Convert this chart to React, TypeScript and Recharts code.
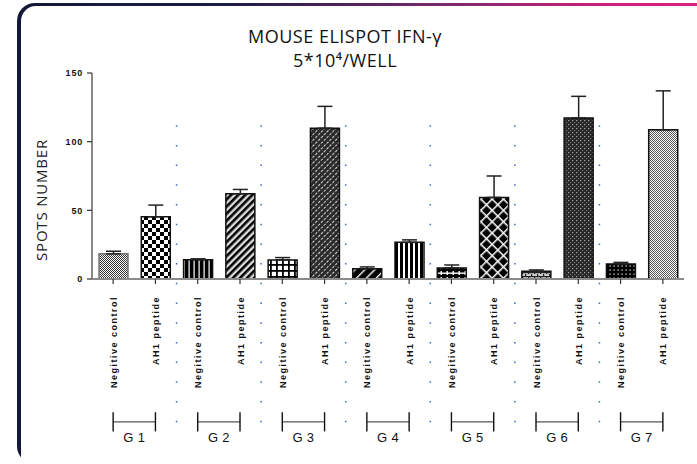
import React from "react";
import { BarChart, Bar, XAxis, YAxis, Cell, ErrorBar, ReferenceLine } from "recharts";

// groups and the two conditions inside each group
const groups = ["G 1", "G 2", "G 3", "G 4", "G 5", "G 6", "G 7"];
const conditions = ["Negitive control", "AH1 peptide"];

// mean spots, in bar order (G1 NC, G1 AH1, G2 NC, ...)
const means = [18.3, 45.3, 14.1, 62.1, 13.9, 109.8, 7.5, 26.7, 8.0, 59.4, 5.6, 117.3, 11.0, 108.6];
// upper error (SEM), same order
const errors = [1.9, 8.5, 0.6, 3.1, 1.7, 15.9, 1.3, 1.8, 2.2, 15.6, 1.0, 15.7, 1.1, 28.4];

const yTicks = [0, 50, 100, 150];

const keyOf = (g: string, c: number) => `${g}|${c}`;

const data = groups.flatMap((g, gi) =>
  conditions.map((c, ci) => ({
    key: keyOf(g, ci),
    mean: means[gi * 2 + ci],
    err: [0, errors[gi * 2 + ci]],
  }))
);

const FONT = "'Liberation Sans', Arial, sans-serif";
const TITLE_FONT = "'Open Sans', sans-serif";

function BarTick({ x, y, index }: any) {
  return (
    <text
      transform={`translate(${x + 3.5},${y + 12}) rotate(-90)`}
      textAnchor="end"
      fontSize={9}
      fontWeight="bold"
      fontFamily={FONT}
      letterSpacing={1.5}
      fill="#111"
    >
      {conditions[index % 2]}
    </text>
  );
}

function Patterns() {
  return (
    <defs>
      <pattern id="p0" width="2" height="2" patternUnits="userSpaceOnUse">
        <rect width="2" height="2" fill="#fff" />
        <rect width="1" height="1" fill="#333" />
        <rect x="1" y="1" width="1" height="1" fill="#333" />
      </pattern>
      <pattern id="p1" width="8" height="8" patternUnits="userSpaceOnUse">
        <rect width="8" height="8" fill="#fff" />
        <rect width="4" height="4" fill="#000" />
        <rect x="4" y="4" width="4" height="4" fill="#000" />
      </pattern>
      <pattern id="p2" width="5" height="5" patternUnits="userSpaceOnUse">
        <rect width="5" height="5" fill="#000" />
        <rect x="3.5" width="1.2" height="5" fill="#fff" />
      </pattern>
      <pattern id="p3" width="5" height="5" patternUnits="userSpaceOnUse" patternTransform="rotate(45)">
        <rect width="5" height="5" fill="#ddd" />
        <rect width="2.6" height="5" fill="#000" />
      </pattern>
      <pattern id="p4" width="6" height="6" patternUnits="userSpaceOnUse">
        <rect width="6" height="6" fill="#fff" />
        <rect width="1.8" height="6" fill="#000" />
        <rect width="6" height="1.8" fill="#000" />
      </pattern>
      <pattern id="p5" width="4" height="4" patternUnits="userSpaceOnUse" patternTransform="rotate(45)">
        <rect width="4" height="4" fill="#2b2b2b" />
        <rect width="1" height="2.5" fill="#ddd" />
      </pattern>
      <pattern id="p6" width="7" height="7" patternUnits="userSpaceOnUse" patternTransform="rotate(45)">
        <rect width="7" height="7" fill="#000" />
        <rect width="1.4" height="7" fill="#fff" />
      </pattern>
      <pattern id="p7" width="5" height="5" patternUnits="userSpaceOnUse">
        <rect width="5" height="5" fill="#fff" />
        <rect width="3" height="5" fill="#000" />
      </pattern>
      <pattern id="p8" width="6" height="6" patternUnits="userSpaceOnUse">
        <rect width="6" height="6" fill="#000" />
        <rect y="2.5" width="6" height="1.4" fill="#fff" />
        <rect x="2.5" y="1" width="1.4" height="4" fill="#fff" />
      </pattern>
      <pattern id="p9" width="8" height="8" patternUnits="userSpaceOnUse" patternTransform="rotate(45)">
        <rect width="8" height="8" fill="#000" />
        <rect width="1.5" height="8" fill="#fff" />
        <rect width="8" height="1.5" fill="#fff" />
      </pattern>
      <pattern id="p10" width="6" height="4" patternUnits="userSpaceOnUse">
        <rect width="6" height="4" fill="#ccc" />
        <rect width="6" height="1.2" fill="#222" />
        <rect width="1.2" height="2" fill="#222" />
        <rect x="3" y="2" width="1.2" height="2" fill="#222" />
      </pattern>
      <pattern id="p11" width="4" height="4" patternUnits="userSpaceOnUse">
        <rect width="4" height="4" fill="#262626" />
        <rect width="1.2" height="1.2" fill="#aaa" />
        <rect x="2" y="2" width="1.2" height="1.2" fill="#777" />
      </pattern>
      <pattern id="p12" width="4" height="4" patternUnits="userSpaceOnUse">
        <rect width="4" height="4" fill="#000" />
        <rect x="1.5" y="1.5" width="1.2" height="1.2" fill="#fff" />
      </pattern>
      <pattern id="p13" width="2" height="2" patternUnits="userSpaceOnUse">
        <rect width="2" height="2" fill="#fff" />
        <rect width="1" height="1" fill="#555" />
        <rect x="1" y="1" width="1" height="1" fill="#555" />
      </pattern>
    </defs>
  );
}

export default function App() {
  return (
    <div style={{ position: "fixed", left: 0, top: 0, width: 697, height: 464, overflow: "hidden", background: "#fff" }}>
      {/* gradient frame, top and left edges */}
      <div
        style={{
          position: "absolute",
          left: 17,
          top: 3,
          width: 700,
          height: 461,
          borderRadius: 18,
          background: "linear-gradient(90deg, #141838 0%, #1c1c44 30%, #7d2a6f 62%, #d21f7a 85%, #df217f 100%)",
        }}
      />
      <div
        style={{
          position: "absolute",
          left: 20.5,
          top: 6,
          width: 700,
          height: 470,
          borderRadius: 15,
          background: "#fff",
        }}
      />
      <div style={{ position: "absolute", left: 0, top: 0 }}>
        <BarChart
          width={697}
          height={464}
          data={data}
          margin={{ top: 73, right: 13, left: 0, bottom: 0 }}
          barCategoryGap={0}
        >
          <Patterns />
          <text x={345} y={43} textAnchor="middle" fontSize={18} fontFamily={TITLE_FONT} letterSpacing={0.5} fill="#111">
            MOUSE ELISPOT IFN-γ
          </text>
          <text x={345} y={67} textAnchor="middle" fontSize={18} fontFamily={TITLE_FONT} letterSpacing={0.5} fill="#111">
            {"5*10\u2074/WELL"}
          </text>
          <text
            transform="translate(47,200) rotate(-90)"
            textAnchor="middle"
            fontSize={15}
            fontFamily={TITLE_FONT}
            letterSpacing={0.8}
            fill="#222"
          >
            SPOTS NUMBER
          </text>
          <XAxis
            dataKey="key"
            height={185}
            interval={0}
            tick={<BarTick />}
            tickSize={5}
            tickMargin={0}
            axisLine={{ stroke: "#8a8a8a", strokeWidth: 2 }}
            tickLine={{ stroke: "#333", strokeWidth: 1.2 }}
          />
          <YAxis
            width={92}
            domain={[0, 150]}
            ticks={yTicks}
            interval={0}
            tickSize={5}
            tickMargin={4}
            axisLine={{ stroke: "#8a8a8a", strokeWidth: 2 }}
            tickLine={{ stroke: "#333", strokeWidth: 1.2 }}
            tick={{ fontSize: 9, fontWeight: "bold", fontFamily: FONT, fill: "#111", letterSpacing: 0.8 }}
          />
          {groups.slice(1).map((g) => (
            <ReferenceLine
              key={"sep" + g}
              segment={[
                { x: keyOf(g, 0), y: 112 },
                { x: keyOf(g, 0), y: -105 },
              ]}
              position="start"
              ifOverflow="visible"
              stroke="#3a66cc"
              strokeWidth={1.5}
              strokeDasharray="1.5 18.2"
            />
          ))}
          {groups.map((g) => (
            <React.Fragment key={"br" + g}>
              <ReferenceLine
                segment={[
                  { x: keyOf(g, 0), y: -104 },
                  { x: keyOf(g, 1), y: -104 },
                ]}
                ifOverflow="visible"
                stroke="#555"
                strokeWidth={1.3}
                label={{ value: g, position: "bottom", offset: 11, fontSize: 13, fontFamily: FONT, fill: "#111", letterSpacing: 0.3 }}
              />
              <ReferenceLine
                segment={[
                  { x: keyOf(g, 0), y: -97 },
                  { x: keyOf(g, 0), y: -111 },
                ]}
                ifOverflow="visible"
                stroke="#111"
                strokeWidth={1.4}
              />
              <ReferenceLine
                segment={[
                  { x: keyOf(g, 1), y: -97 },
                  { x: keyOf(g, 1), y: -111 },
                ]}
                ifOverflow="visible"
                stroke="#111"
                strokeWidth={1.4}
              />
            </React.Fragment>
          ))}
          <Bar dataKey="mean" barSize={29} isAnimationActive={false}>
            {data.map((d, i) => (
              <Cell key={d.key} fill={`url(#p${i})`} stroke={i === 0 ? "#777" : "#111"} strokeWidth={1.5} />
            ))}
            <ErrorBar dataKey="err" direction="y" width={7.5} stroke="#222" strokeWidth={1.5} isAnimationActive={false} />
          </Bar>
        </BarChart>
      </div>
    </div>
  );
}
